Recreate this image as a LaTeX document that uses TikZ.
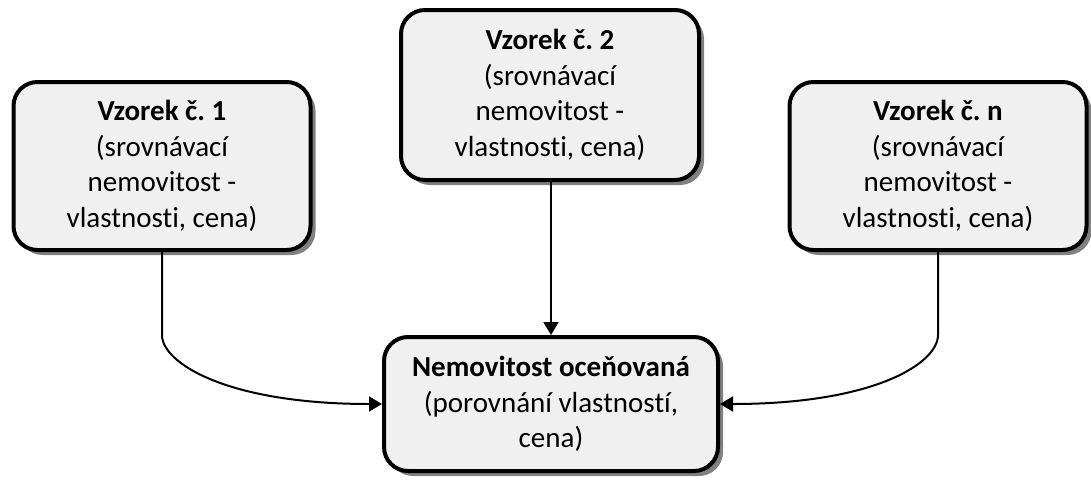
\documentclass[tikz,border=0pt]{standalone}
\usepackage{fontspec}
\setmainfont[Ligatures=NoCommon]{Carlito}
\usetikzlibrary{arrows.meta,shadows}
\frenchspacing
\begin{document}
\begin{tikzpicture}[x=1pt,y=-1pt,
  card/.style={draw=black, line width=4pt, fill=black!6, rounded corners=24pt,
    align=center, inner sep=0pt,
    font=\fontsize{29}{35.5}\selectfont,
    drop shadow={shadow xshift=5pt, shadow yshift=-5pt, fill=black!50, opacity=1}},
  link/.style={draw=black, line width=2pt, -{Triangle[length=13pt,width=15pt]}}]
  \useasboundingbox (0,0) rectangle (1091,479);

  % sample properties
  \node[card, minimum width=297pt, minimum height=168pt] (s1) at (162,166)
    {\textbf{Vzorek č. 1}\\(srovnávací\\nemovitost -\\vlastnosti, cena)};
  \node[card, minimum width=298pt, minimum height=170pt] (s2) at (550,95)
    {\textbf{Vzorek č. 2}\\(srovnávací\\nemovitost -\\vlastnosti, cena)};
  \node[card, minimum width=297pt, minimum height=168pt] (sn) at (938,166)
    {\textbf{Vzorek č. n}\\(srovnávací\\nemovitost -\\vlastnosti, cena)};

  % valued property
  \node[card, minimum width=334pt, minimum height=134pt] (val) at (551,404)
    {\textbf{Nemovitost oceňovaná}\\(porovnání vlastností,\\cena)};

  % connectors
  \draw[link] (s1.south) -- ++(0,83) .. controls +(0,28) and +(-155,0) .. (val.west);
  \draw[link] (s2.south -| val.north) -- (val.north);
  \draw[link] (sn.south) -- ++(0,83) .. controls +(0,28) and +(155,0) .. (val.east);
\end{tikzpicture}
\end{document}
